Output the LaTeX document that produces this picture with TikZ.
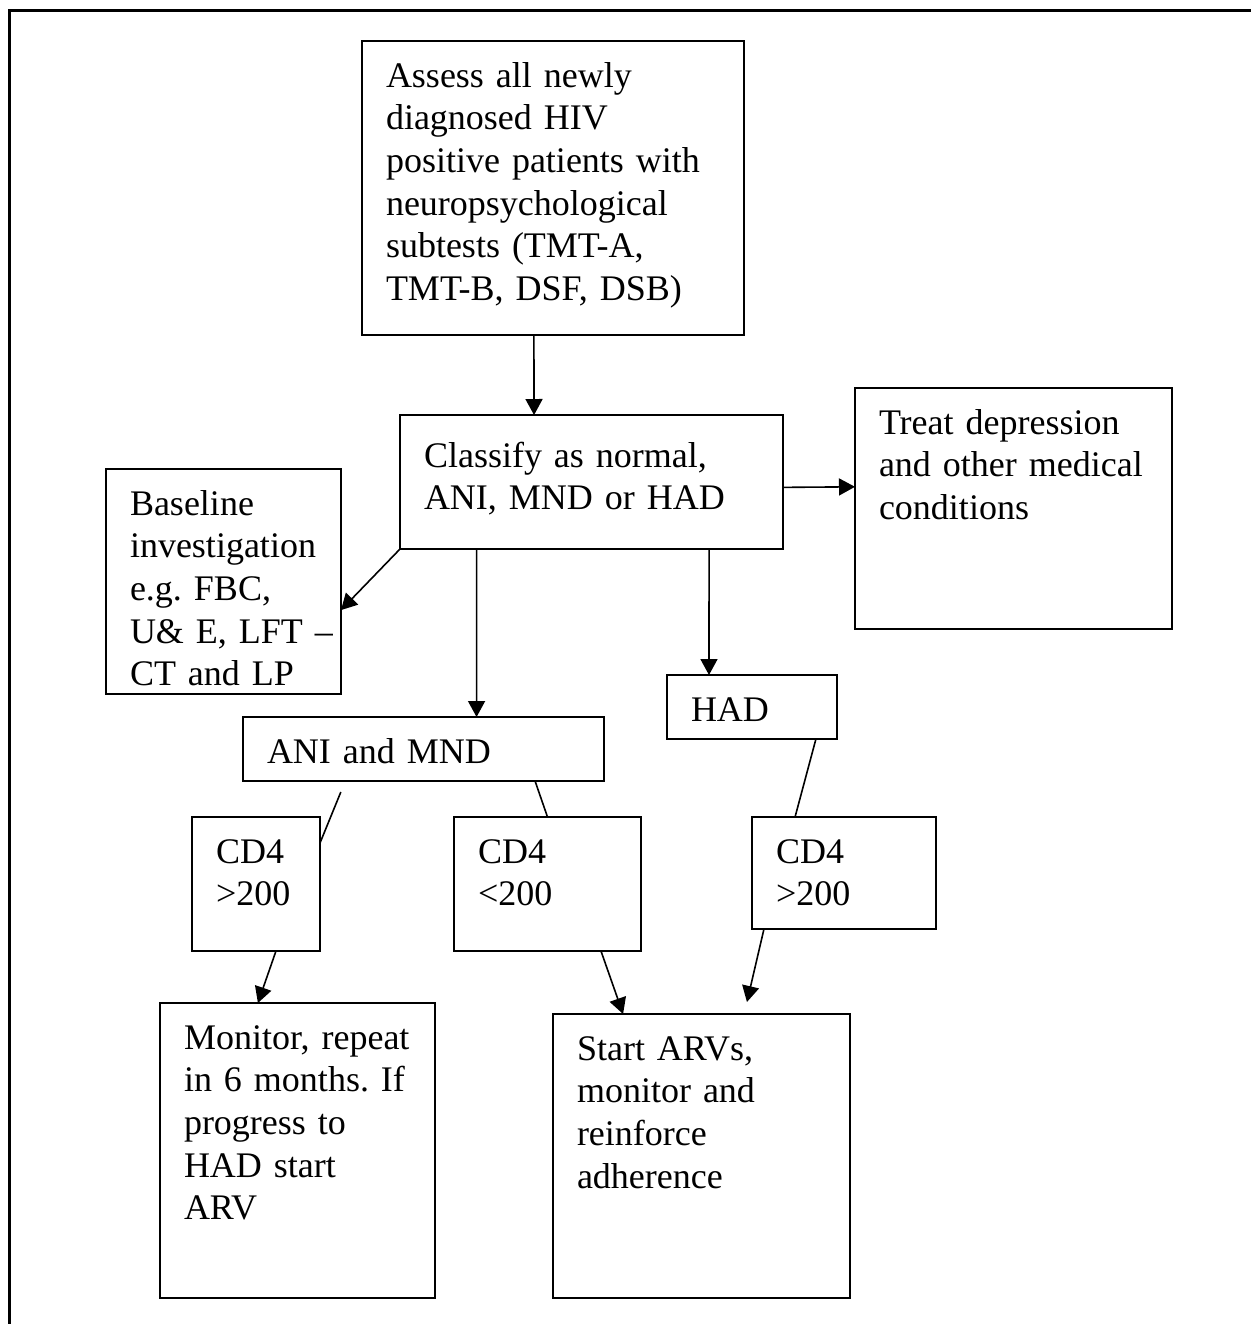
\documentclass[tikz,border=0pt]{standalone}
\usepackage{fontspec}
\setmainfont{Liberation Serif}
\usepackage{tikz}
\usetikzlibrary{positioning}
\usetikzlibrary{arrows.meta,calc}
\frenchspacing

\begin{document}
\begin{tikzpicture}[x=0.5pt,y=-0.5pt,main node/.style={draw,line width=1pt,outer sep=0pt,inner xsep=12pt,inner ysep=0pt,align=left,text height=23pt,font=\fontsize{18pt}{21.35pt}\selectfont\frenchspacing},arr/.style={line width=0.8pt,-{Triangle[length=8pt,width=8.5pt]}},lin/.style={line width=0.8pt}]

		\useasboundingbox (0,0) rectangle (1251,1324);
		\draw[line width=1.5pt] (1251,10) -- (9,10) -- (9,1324);

		\node[main node][text width=167pt,text depth=124pt,anchor=north west](1) at (362,41){Assess all newly\\diagnosed HIV\\positive patients with\\neuropsychological\\subtests (TMT-A,\\TMT-B, DSF, DSB)};
		\node[main node][text width=167.5pt,text height=26pt,text depth=41pt](2)[below right = 40pt and 19pt of 1.south west]{Classify as normal,\\ANI, MND or HAD};
		\node[main node][text width=134.5pt,text depth=97.5pt](3)[below right = 26.5pt and 55.5pt of 1.south east]{Treat depression\\and other medical\\conditions};
		\node[main node][text width=93.5pt,text depth=89.5pt](4)[below left = 67pt and 10.5pt of 1.south west]{Baseline\\investigation\\e.g.~FBC,\\\mbox{U\&~E, LFT~--}\\CT and LP};
		\node[main node][text width=156.5pt,text depth=9pt](5)[below right = 11.5pt and 68.5pt of 4.south west]{ANI and MND};
		\node[main node][text width=61pt,text depth=9pt](6)[below right = 63pt and 133.5pt of 2.south west]{HAD};
		\node[main node][text width=40pt,text depth=44pt](7)[below right = 61.5pt and 43pt of 4.south west]{CD4\\>200};
		\node[main node][text width=69.5pt,text depth=44pt](8)[below right = 18pt and 105.5pt of 5.south west]{CD4\\<200};
		\node[main node][text width=68pt,text depth=33pt](9)[below right = 39pt and 42.5pt of 6.south west]{CD4\\>200};
		\node[main node][text width=113.5pt,text depth=124.5pt](10)[below right = 26pt and -16pt of 7.south west]{\mbox{Monitor, repeat}\\\mbox{in 6 months. If}\\progress to\\HAD start\\ARV};
		\node[main node][text width=124.5pt,text depth=119pt](11)[below right = 31.5pt and 49.5pt of 8.south west]{Start ARVs,\\monitor and\\reinforce\\adherence};
		\coordinate (12) at ($(11.north west)!0.653!(11.north east) + (0,-12)$);

		\path [arr] ($(1.south west)!0.45!(1.south east)$) edge ($(2.north west)!0.35!(2.north east)$);
		\path [arr] ($(2.north east)!0.54!(2.south east)$) edge ($(3.north west)!0.41!(3.south west)$);
		\path [arr] (2.south west) edge ($(4.north east)!0.627!(4.south east)$);
		\path [arr] ($(2.south west)!0.2!(2.south east)$) edge ($(5.north west)!0.647!(5.north east)$);
		\path [arr] ($(2.south west)!0.807!(2.south east)$) edge ($(6.north west)!0.247!(6.north east)$);
		\path [lin] ($(5.south west)!0.271!(5.south east) + (0,11)$) edge ($(7.north east)!0.194!(7.south east)$);
		\path [lin] ($(5.south west)!0.809!(5.south east)$) edge (8.north);
		\path [lin] ($(6.south west)!0.876!(6.south east)$) edge ($(9.north west)!0.234!(9.north east)$);
		\path [arr] ($(7.south west)!0.656!(7.south east)$) edge ($(10.north west)!0.356!(10.north east)$);
		\path [arr] ($(8.south west)!0.786!(8.south east)$) edge ($(11.north west)!0.236!(11.north east)$);
		\path [arr] ($(9.south west)!0.065!(9.south east)$) edge (12);

	\end{tikzpicture}
\end{document}
